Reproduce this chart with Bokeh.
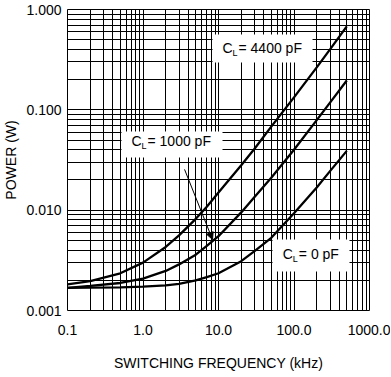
from bokeh.plotting import figure
from bokeh.embed import file_html
from bokeh.resources import INLINE
from bokeh.models import (FixedTicker, CustomJSTickFormatter, BoxAnnotation,
                          Label, Arrow, NormalHead)

# Switching frequency (kHz)
freq = [0.1, 0.2, 0.5, 1, 2, 3, 5, 7, 10, 20, 30, 50, 100, 200, 300, 500]
# Power (W) for each load capacitance
p_4400 = [0.00182, 0.00196, 0.00235, 0.0030, 0.0043, 0.0056, 0.0082, 0.0108,
          0.0150, 0.0280, 0.041, 0.068, 0.133, 0.265, 0.40, 0.68]
p_1000 = [0.00168, 0.00176, 0.00188, 0.00208, 0.00248, 0.00288, 0.0036, 0.0044,
          0.0055, 0.0095, 0.0135, 0.0210, 0.040, 0.079, 0.118, 0.196]
p_0 = [0.00168, 0.00169, 0.00170, 0.00173, 0.00178, 0.00184, 0.0020, 0.00215,
       0.00235, 0.0031, 0.0039, 0.0053, 0.0093, 0.0168, 0.0245, 0.039]

x_major = [0.1, 1, 10, 100, 1000]
y_major = [0.001, 0.01, 0.1, 1]

FONT = "Liberation Sans"
FS = "14px"

p = figure(x_axis_type="log", y_axis_type="log",
           x_range=(0.1, 1000), y_range=(0.001, 1),
           frame_width=302, frame_height=301,
           min_border_left=60, min_border_right=21,
           min_border_top=9, min_border_bottom=56,
           output_backend="svg", toolbar_location=None)

x_minor = [k * d for d in [0.1, 1, 10, 100] for k in range(2, 10)]
y_minor = [k * d for d in [0.001, 0.01, 0.1] for k in range(2, 10)]
p.xaxis.ticker = FixedTicker(ticks=x_major, minor_ticks=x_minor)
p.yaxis.ticker = FixedTicker(ticks=y_major, minor_ticks=y_minor)
p.xaxis.formatter = CustomJSTickFormatter(code="return tick.toFixed(1);")
p.yaxis.formatter = CustomJSTickFormatter(code="return tick.toFixed(3);")

for ax in (p.xaxis, p.yaxis):
    ax.major_tick_out = 0
    ax.major_tick_in = 0
    ax.minor_tick_out = 0
    ax.minor_tick_in = 0
    ax.axis_line_color = None
    ax.major_label_text_font = FONT
    ax.major_label_text_font_size = FS
    ax.major_label_text_color = "black"
    ax.axis_label_text_font = FONT
    ax.axis_label_text_font_size = FS
    ax.axis_label_text_font_style = "normal"
    ax.axis_label_text_color = "black"

p.xaxis.axis_label = "SWITCHING FREQUENCY (kHz)"
p.yaxis.axis_label = "POWER (W)"
p.xaxis.major_label_standoff = 14
p.xaxis.axis_label_standoff = 17
p.yaxis.major_label_standoff = 6
p.yaxis.axis_label_standoff = 4

for g in (p.xgrid, p.ygrid):
    g.grid_line_color = "black"
    g.grid_line_width = 1
    g.grid_line_alpha = 1
    g.minor_grid_line_color = "black"
    g.minor_grid_line_width = 1

p.outline_line_color = "black"
p.outline_line_width = 1
p.background_fill_color = "white"
p.border_fill_color = "white"

for ys in (p_4400, p_1000, p_0):
    p.line(freq, ys, line_color="black", line_width=2.3)

# label boxes: (left, right, bottom, top), text anchor (x, y), value
labels = [
    ((8.33, 176), (0.297, 0.565), (11.3, 0.409), " = 4400 pF"),
    ((0.519, 11.3), (0.0335, 0.0609), (0.704, 0.0484), " = 1000 pF"),
    ((51.9, 543), (0.00245, 0.0051), (71.1, 0.00367), " = 0 pF"),
]
for (l, r), (b, t), (tx, ty), txt in labels:
    p.add_layout(BoxAnnotation(left=l, right=r, bottom=b, top=t,
                               fill_color="white", fill_alpha=1,
                               line_color=None))
    p.add_layout(Label(x=tx, y=ty, text="C", text_font=FONT,
                       text_font_size=FS, text_baseline="middle",
                       text_align="left", text_color="black"))
    p.add_layout(Label(x=tx, y=ty, text="L", text_font=FONT,
                       text_font_size="9px", text_baseline="middle",
                       text_align="left", text_color="black",
                       x_offset=10, y_offset=-5))
    p.add_layout(Label(x=tx, y=ty, text=txt, text_font=FONT,
                       text_font_size=FS, text_baseline="middle",
                       text_align="left", text_color="black",
                       x_offset=16))

p.add_layout(Arrow(end=NormalHead(size=7, fill_color="black",
                                  line_color="black"),
                   x_start=3.55, y_start=0.0255, x_end=8.33, y_end=0.0051,
                   line_color="black", line_width=1))

open("out.html", "w").write(file_html(p, INLINE))
